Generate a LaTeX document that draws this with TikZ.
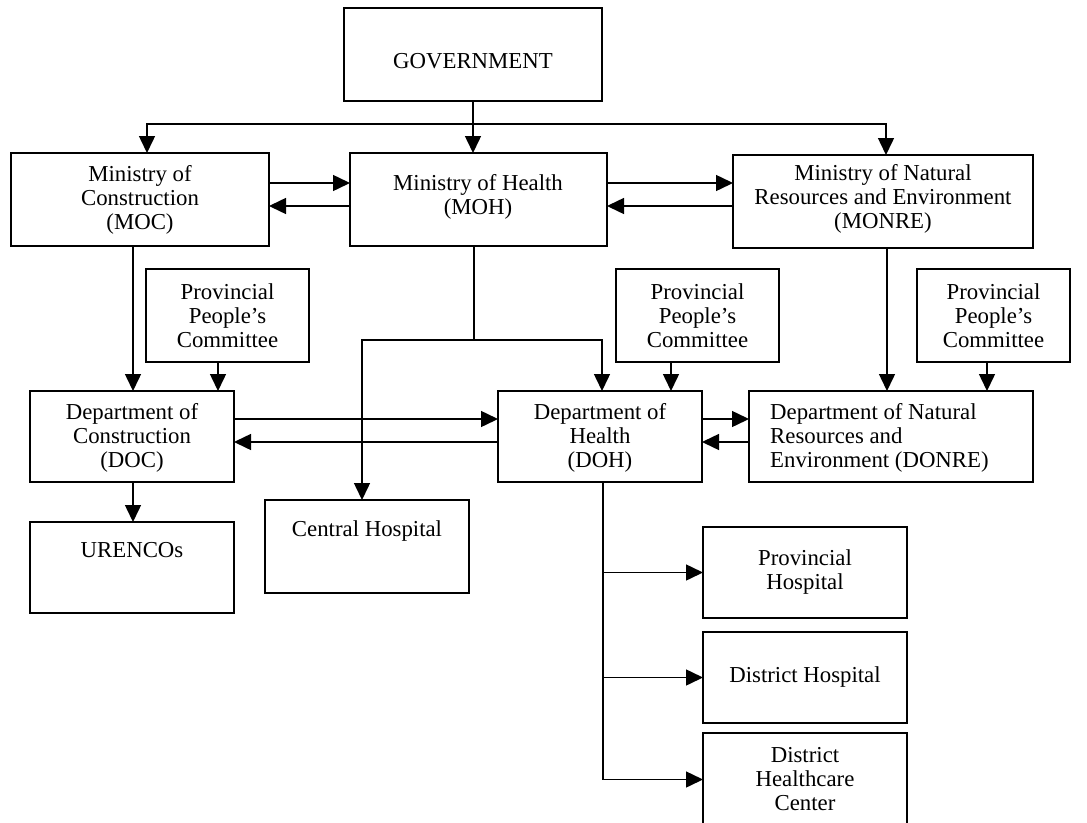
\documentclass[tikz,border=0pt]{standalone}
\usepackage{fontspec}
\setmainfont{Liberation Serif}
\usetikzlibrary{arrows.meta,calc}

% box by its corners: name, x1, y1, x2, y2
\newcommand\orgbox[5]{%
  \node[box, minimum width={(#4-#2)*1pt}, minimum height={(#5-#3)*1pt}]
    (#1) at ({(#2+#4)/2},{(#3+#5)/2}) {};}

\begin{document}
\begin{tikzpicture}[x=1pt,y=-1pt,
  box/.style={draw, line width=1.7pt, inner sep=0pt, outer sep=0pt},
  txt/.style={font=\fontsize{22.8}{24}\selectfont, align=center, inner sep=0pt},
  link/.style={line width=1.5pt},
  arr/.style={link, -{Triangle[length=17pt,width=16pt]}}]
\useasboundingbox (0,0) rectangle (1087,822);

% boxes
\orgbox{gov}{344}{8}{602}{101}
\orgbox{moc}{11}{153}{269}{246}
\orgbox{moh}{350}{153}{607}{246}
\orgbox{monre}{733}{155}{1033}{248}
\orgbox{ppca}{146}{269}{309}{362}
\orgbox{ppcb}{616}{269}{779}{362}
\orgbox{ppcc}{917}{269}{1070}{362}
\orgbox{doc}{30}{391}{234}{482}
\orgbox{doh}{498}{391}{702}{482}
\orgbox{donre}{749}{391}{1033}{482}
\orgbox{uren}{30}{522}{234}{613}
\orgbox{cent}{265}{500}{469}{593}
\orgbox{prov}{703}{527}{907}{618}
\orgbox{dhos}{703}{632}{907}{723}
\orgbox{dhc}{703}{733}{907}{826}

% labels
\node[txt] (tgov) at (473,61) {GOVERNMENT};
\node[txt] (tmoc) at (140,200) {Ministry of\\Construction\\(MOC)};
\node[txt] (tmoh) at (478,197) {Ministry of Health\\(MOH)};
\node[txt] (tmonre) at (883,199) {Ministry of Natural\\Resources and Environment\\(MONRE)};
\node[txt] (tppca) at (227.5,316) {Provincial\\People’s\\Committee};
\node[txt] (tppcb) at (697.5,316) {Provincial\\People’s\\Committee};
\node[txt] (tppcc) at (993.5,316) {Provincial\\People’s\\Committee};
\node[txt] (tdoc) at (132,438) {Department of\\Construction\\(DOC)};
\node[txt] (tdoh) at (600,438) {Department of\\Health\\(DOH)};
\node[txt, align=left, anchor=west] (tdonre) at (770,438) {Department of Natural\\Resources and\\Environment (DONRE)};
\node[txt] (turen) at (132,550) {URENCOs};
\node[txt] (tcent) at (367,531) {Central Hospital};
\node[txt] (tprov) at (805,572) {Provincial\\Hospital};
\node[txt] (tdhos) at (805,677) {District Hospital};
\node[txt] (tdhc) at (805,779) {District\\Healthcare\\Center};

% connector columns and rows
\coordinate (busl) at (147,124);
\coordinate (busr) at (886,124);
\coordinate (ca) at (133,0);
\coordinate (cp1) at (218,0);
\coordinate (cp2) at (671,0);
\coordinate (cp3) at (987,0);
\coordinate (ch) at (474,0);
\coordinate (cch) at (362,0);
\coordinate (cdh) at (602,0);
\coordinate (cm) at (887,0);
\coordinate (cd) at (603,0);
\coordinate (rj) at (0,340);
\coordinate (r1) at (0,183);
\coordinate (r2) at (0,206);
\coordinate (r3) at (0,419);
\coordinate (r4) at (0,442);

% government to ministries
\draw[arr] (gov.south) -- (gov.south |- moh.north);
\draw[arr] (gov.south |- busl) -- (busl) -- (busl |- moc.north);
\draw[arr] (gov.south |- busr) -- (busr) -- (busr |- monre.north);

% between ministries
\draw[arr] (moc.east |- r1) -- (moh.west |- r1);
\draw[arr] (moh.west |- r2) -- (moc.east |- r2);
\draw[arr] (moh.east |- r1) -- (monre.west |- r1);
\draw[arr] (monre.west |- r2) -- (moh.east |- r2);

% ministries to departments
\draw[arr] (ca |- moc.south) -- (ca |- doc.north);
\draw[arr] (cp1 |- ppca.south) -- (cp1 |- doc.north);
\draw[arr] (ch |- moh.south) -- (ch |- rj) -| (cdh |- doh.north);
\draw[arr] (ch |- rj) -| (cch |- cent.north);
\draw[arr] (cp2 |- ppcb.south) -- (cp2 |- doh.north);
\draw[arr] (cm |- monre.south) -- (cm |- donre.north);
\draw[arr] (cp3 |- ppcc.south) -- (cp3 |- donre.north);

% between departments
\draw[arr] (doc.east |- r3) -- (doh.west |- r3);
\draw[arr] (doh.west |- r4) -- (doc.east |- r4);
\draw[arr] (doh.east |- r3) -- (donre.west |- r3);
\draw[arr] (donre.west |- r4) -- (doh.east |- r4);

% below the departments
\draw[arr] (ca |- doc.south) -- (ca |- uren.north);
\draw[link] (cd |- doh.south) -- (cd |- dhc.west);
\draw[arr] (cd |- prov.west) -- (prov.west);
\draw[arr] (cd |- dhos.west) -- (dhos.west);
\draw[arr] (cd |- dhc.west) -- (dhc.west);
\end{tikzpicture}
\end{document}
